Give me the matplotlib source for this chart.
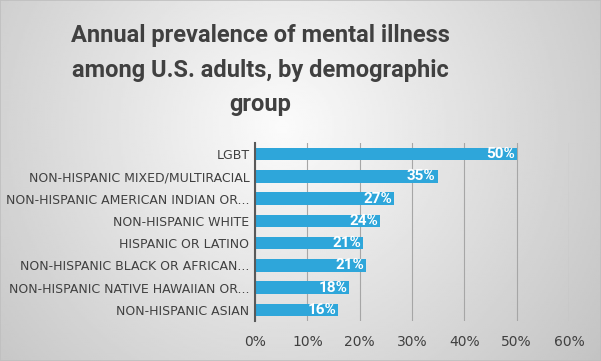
import numpy as np
import matplotlib.pyplot as plt
from matplotlib.ticker import PercentFormatter

# data, bottom to top
groups = ["NON-HISPANIC ASIAN",
          "NON-HISPANIC NATIVE HAWAIIAN OR...",
          "NON-HISPANIC BLACK OR AFRICAN...",
          "HISPANIC OR LATINO",
          "NON-HISPANIC WHITE",
          "NON-HISPANIC AMERICAN INDIAN OR...",
          "NON-HISPANIC MIXED/MULTIRACIAL",
          "LGBT"]
values = [0.159, 0.180, 0.212, 0.207, 0.239, 0.266, 0.349, 0.500]
xticks = [0, 0.1, 0.2, 0.3, 0.4, 0.5, 0.6]

bar_color = "#2EA6DA"
txt_color = "#404040"

fig = plt.figure(figsize=(6.01, 3.61), dpi=100)

# radial grey gradient background, lightest near the upper middle
bg = fig.add_axes([0, 0, 1, 1], zorder=-10)
yy, xx = np.mgrid[0:1:200j, 0:1:300j]
r = np.sqrt(((xx - 0.47) * 1.67) ** 2 + (yy - 0.35) ** 2)
r = r / r.max()
bg.imshow(0.985 - 0.22 * r, cmap="gray", vmin=0, vmax=1, aspect="auto",
          extent=[0, 1, 1, 0])
bg.set_xlim(0, 1)
bg.set_ylim(1, 0)
bg.axis("off")
bg.add_patch(plt.Rectangle((0, 0), 1, 1, fill=False, ec="#BFBFBF", lw=1.2,
                           transform=bg.transAxes))

ax = fig.add_axes([255 / 601, 1 - 321 / 361, (569 - 255) / 601, (321 - 143) / 361])
ax.patch.set_alpha(0)

y = np.arange(len(groups))
bars = ax.barh(y, values, height=0.56, color=bar_color, zorder=3)

for b, v in zip(bars, values):
    ax.text(b.get_width() - 0.004, b.get_y() + b.get_height() / 2,
            f"{v:.0%}", ha="right", va="center", color="white",
            fontsize=11, fontweight="bold", family="Roboto", zorder=4)

ax.set_xlim(0, 0.6)
ax.set_ylim(-0.5, len(groups) - 0.5)
ax.set_xticks(xticks)
ax.xaxis.set_major_formatter(PercentFormatter(1.0, decimals=0))
ax.set_yticks(y)
ax.set_yticklabels(groups)
ax.tick_params(axis="y", length=0, pad=4, labelsize=9, labelcolor=txt_color)
ax.tick_params(axis="x", length=0, pad=10, labelsize=10, labelcolor=txt_color)
ax.grid(axis="x", color="#A6A6A6", lw=0.8, zorder=0)
for s in ["top", "right", "bottom"]:
    ax.spines[s].set_visible(False)
ax.spines["left"].set_color("#595959")
ax.spines["left"].set_linewidth(1.5)
ax.spines["left"].set_zorder(5)

fig.text(260 / 601, 1 - 70 / 361,
         "Annual prevalence of mental illness\namong U.S. adults, by demographic\ngroup",
         ha="center", va="center", fontsize=17, fontweight="bold",
         color=txt_color, linespacing=1.65, family="Roboto")

fig.savefig("out.png", dpi=100)
